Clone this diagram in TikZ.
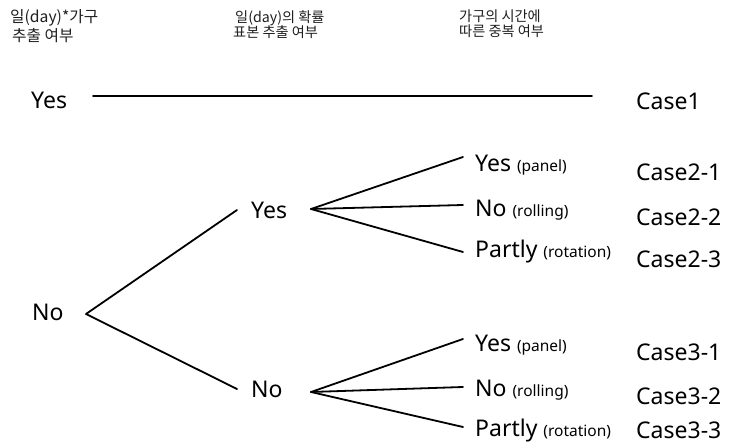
\documentclass[tikz,border=0pt]{standalone}
\usepackage{fontspec}
\setmainfont{Noto Sans}
\newfontfamily\krfont{Noto Sans CJK KR}
\begin{document}
\begin{tikzpicture}[x=1pt,y=-1pt,
  lbl/.style={inner sep=0pt,anchor=base west,font=\fontsize{23}{23}\selectfont},
  hdr/.style={inner sep=0pt,anchor=west,text=black!88,font=\krfont\fontsize{15.7}{15.7}\selectfont},
  hdrs/.style={hdr,font=\krfont\fontsize{14.2}{14.2}\selectfont},
  branch/.style={line width=1.8pt,line cap=round,line join=round}]
\newcommand{\sm}[1]{{\fontsize{15.5}{15.5}\selectfont #1}}
\useasboundingbox (0,0) rectangle (729,446);
% headers
\node[hdr] (h1a) at (10,17.5) {일(day)*가구};
\node[hdr] (h1b) at (12,35.5) {추출 여부};
\node[hdrs] (h2a) at (235,18) {일(day)의 확률};
\node[hdrs] (h2b) at (233,32.5) {표본 추출 여부};
\node[hdrs] (h3a) at (459,16.5) {가구의 시간에};
\node[hdrs] (h3b) at (459,31.5) {따른 중복 여부};
% labels
\node[lbl] (yes0) at (31,109) {Yes};
\node[lbl] (case1) at (636,110) {Case1};
\node[lbl] (no0) at (32,321) {No};
\node[lbl] (yes1) at (251,219) {Yes};
\node[lbl] (no1) at (251,398) {No};
\node[lbl] (y21) at (475,172) {Yes \sm{(panel)}};
\node[lbl] (n22) at (475,217) {No \sm{(rolling)}};
\node[lbl] (p23) at (475,258) {Partly \sm{(rotation)}};
\node[lbl] (y31) at (475,352) {Yes \sm{(panel)}};
\node[lbl] (n32) at (475,397) {No \sm{(rolling)}};
\node[lbl] (p33) at (475,437) {Partly \sm{(rotation)}};
\node[lbl] (c21) at (636,181) {Case2-1};
\node[lbl] (c22) at (636,226) {Case2-2};
\node[lbl] (c23) at (636,268) {Case2-3};
\node[lbl] (c31) at (636,361) {Case3-1};
\node[lbl] (c32) at (636,405) {Case3-2};
\node[lbl] (c33) at (636,439) {Case3-3};
% connector points
\coordinate (t0) at (93,96);
\coordinate (t1) at (592,96);
\coordinate (v0) at (86,314);
\coordinate (a1) at (237,210);
\coordinate (a2) at (237,389);
\coordinate (v1) at (311,209);
\coordinate (b1) at (463,157);
\coordinate (b2) at (463,205);
\coordinate (b3) at (463,252);
\coordinate (v2) at (311,392);
\coordinate (c1) at (463,339);
\coordinate (c2) at (463,387);
\coordinate (c3) at (463,427);
% connectors
\draw[branch] (t0) -- (t1);
\draw[branch] (a1) -- (v0) -- (a2);
\draw[branch] (v1) -- (b1);
\draw[branch] (v1) -- (b2);
\draw[branch] (v1) -- (b3);
\draw[branch] (v2) -- (c1);
\draw[branch] (v2) -- (c2);
\draw[branch] (v2) -- (c3);
\end{tikzpicture}
\end{document}
